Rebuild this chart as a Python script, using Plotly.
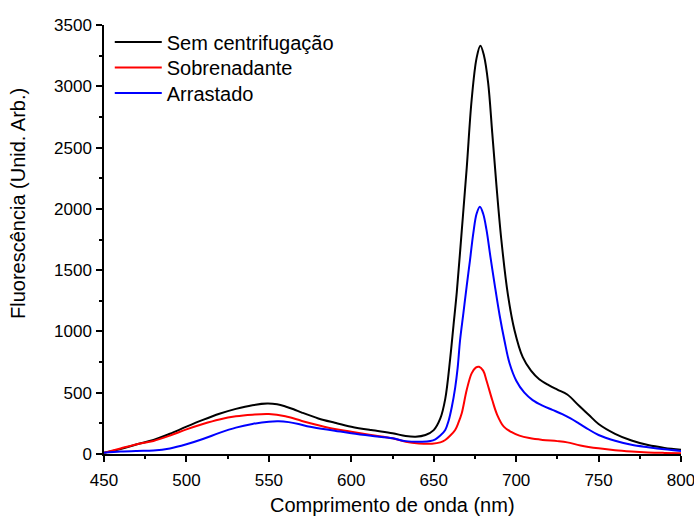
import plotly.graph_objects as go

# ---- data ----
wl_sem = [450, 460, 470, 480, 490, 500, 510, 520, 530, 540, 549, 555, 560, 565, 570, 580, 590, 600, 612, 625, 633,
          639, 645, 650, 654, 657, 660, 662, 664, 667, 670, 673, 676, 678.3, 680.5, 683, 685.5, 688, 691, 695, 699,
          704, 709, 714, 720, 725, 731, 738, 744, 750, 760, 770, 780, 790, 800]
fl_sem = [10, 40, 80, 114, 165, 223, 278, 328, 368, 398, 411, 405, 388, 365, 338, 290, 255, 223, 195, 169, 147,
          141, 155, 195, 290, 450, 780, 1050, 1320, 1820, 2330, 2888, 3230, 3331, 3250, 3030, 2620, 2200, 1750, 1300, 1010,
          790, 680, 610, 560, 525, 485, 395, 320, 245, 165, 110, 73, 50, 35]

wl_sob = [450, 460, 470, 480, 490, 500, 510, 520, 530, 540, 550, 560, 570, 580, 590, 600, 612, 625, 633, 641, 649,
          654, 657, 660, 663, 665, 667, 670, 673, 675.5, 677.5, 680, 682, 685.5, 688.5, 692.5, 697, 702, 708, 716,
          725, 731, 739, 750, 760, 770, 780, 790, 800]
fl_sob = [10, 45, 80, 106, 150, 201, 245, 282, 308, 321, 326, 308, 270, 235, 204, 182, 155, 128, 100, 86, 84,
          95, 114, 150, 196, 255, 332, 522, 658, 705, 712, 680, 600, 440, 320, 223, 180, 150, 130, 115,
          105, 95, 70, 46, 30, 20, 13, 9, 6]

wl_arr = [450, 460, 470, 480, 490, 500, 510, 520, 530, 540, 550, 556, 562, 568, 575, 590, 600, 612, 625, 633, 643,
          648, 651, 654, 657, 659, 661, 663, 664.5, 666, 668, 670, 672, 674, 676, 678, 680, 682, 684.5, 687, 690,
          693, 696, 700, 705, 710, 716, 722, 728, 733, 738, 744, 750, 760, 770, 780, 790, 800]
fl_arr = [10, 20, 25, 28, 45, 79, 122, 172, 215, 245, 264, 267, 260, 245, 222, 190, 169, 148, 128, 105, 100,
          106, 120, 150, 196, 270, 386, 540, 700, 930, 1150, 1370, 1580, 1800, 1960, 2018, 1960, 1830, 1600, 1380, 1130,
          920, 740, 600, 500, 440, 395, 360, 325, 290, 250, 200, 155, 108, 75, 55, 38, 25]

names = ["Sem centrifugação", "Sobrenadante", "Arrastado"]
colors = ["#000000", "#FF0000", "#0000FF"]
x_ticks = [450, 500, 550, 600, 650, 700, 750, 800]
x_range = [450, 800]
y_range = [0, 3500]

FONT = "Arial, Liberation Sans, sans-serif"

fig = go.Figure()
series = [(wl_sem, fl_sem), (wl_sob, fl_sob), (wl_arr, fl_arr)]
legends = ["legend", "legend2", "legend3"]
for (x, y), name, c, lg in zip(series, names, colors, legends):
    fig.add_trace(go.Scatter(x=x, y=y, mode="lines", name=name, legend=lg,
                             line=dict(color=c, width=2, shape="spline", smoothing=1.0)))

axis_common = dict(showline=True, linecolor="black", linewidth=1.5, showgrid=False, zeroline=False,
                   tickcolor="black", tickwidth=1.5, automargin=False)

fig.update_layout(
    width=694, height=516,
    margin=dict(l=104, r=13, t=25, b=62, autoexpand=False),
    paper_bgcolor="white", plot_bgcolor="white",
    font=dict(family=FONT, color="black"),
    xaxis=dict(range=x_range, tickmode="array", tickvals=x_ticks, ticktext=[str(v) for v in x_ticks],
               ticks="outside", ticklen=6, ticklabelstandoff=4, ticklabeloverflow="allow",
               tickfont=dict(size=17, family=FONT),
               minor=dict(dtick=25, tick0=450, ticks="outside", ticklen=3.5, tickcolor="black", tickwidth=1.5),
               **axis_common),
    yaxis=dict(range=y_range, dtick=500, tick0=0, ticks="outside", ticklen=6,
               tickfont=dict(size=17, family=FONT), ticklabelstandoff=1, ticklabeloverflow="allow",
               minor=dict(dtick=250, ticks="outside", ticklen=3.5, tickcolor="black", tickwidth=1.5),
               **axis_common),
    xaxis2=dict(range=x_range, overlaying="x", side="top", anchor="y", dtick=25, tick0=450, ticks="inside",
                ticklen=5, showticklabels=False, **axis_common),
    yaxis2=dict(range=y_range, overlaying="y", side="right", anchor="x", dtick=250, tick0=0, ticks="inside",
                ticklen=5, showticklabels=False, **axis_common),
    showlegend=True,
)

leg_common = dict(xref="paper", yref="paper", x=0.01, xanchor="left", yanchor="middle",
                  bgcolor="rgba(0,0,0,0)", borderwidth=0, font=dict(size=20, family=FONT),
                  itemwidth=47)
fig.update_layout(
    legend=dict(y=(454 - 42) / 429, **leg_common),
    legend2=dict(y=(454 - 67.5) / 429, **leg_common),
    legend3=dict(y=(454 - 93) / 429, **leg_common),
)

fig.add_annotation(text="Comprimento de onda (nm)", xref="paper", yref="paper", x=0.5, y=0,
                   xanchor="center", yanchor="middle", yshift=-51, showarrow=False,
                   font=dict(size=20, family=FONT))
fig.add_annotation(text="Fluorescência (Unid. Arb.)", xref="paper", yref="paper", x=0, y=(454 - 204) / 429,
                   xanchor="center", yanchor="middle", xshift=-86, textangle=-90, showarrow=False,
                   font=dict(size=20, family=FONT))

# remove the default page margin so the 694x516 figure fills the window exactly
fig.write_html("out.html", config={"displayModeBar": False},
               post_script="document.body.style.margin='0';document.body.style.overflow='hidden';")
